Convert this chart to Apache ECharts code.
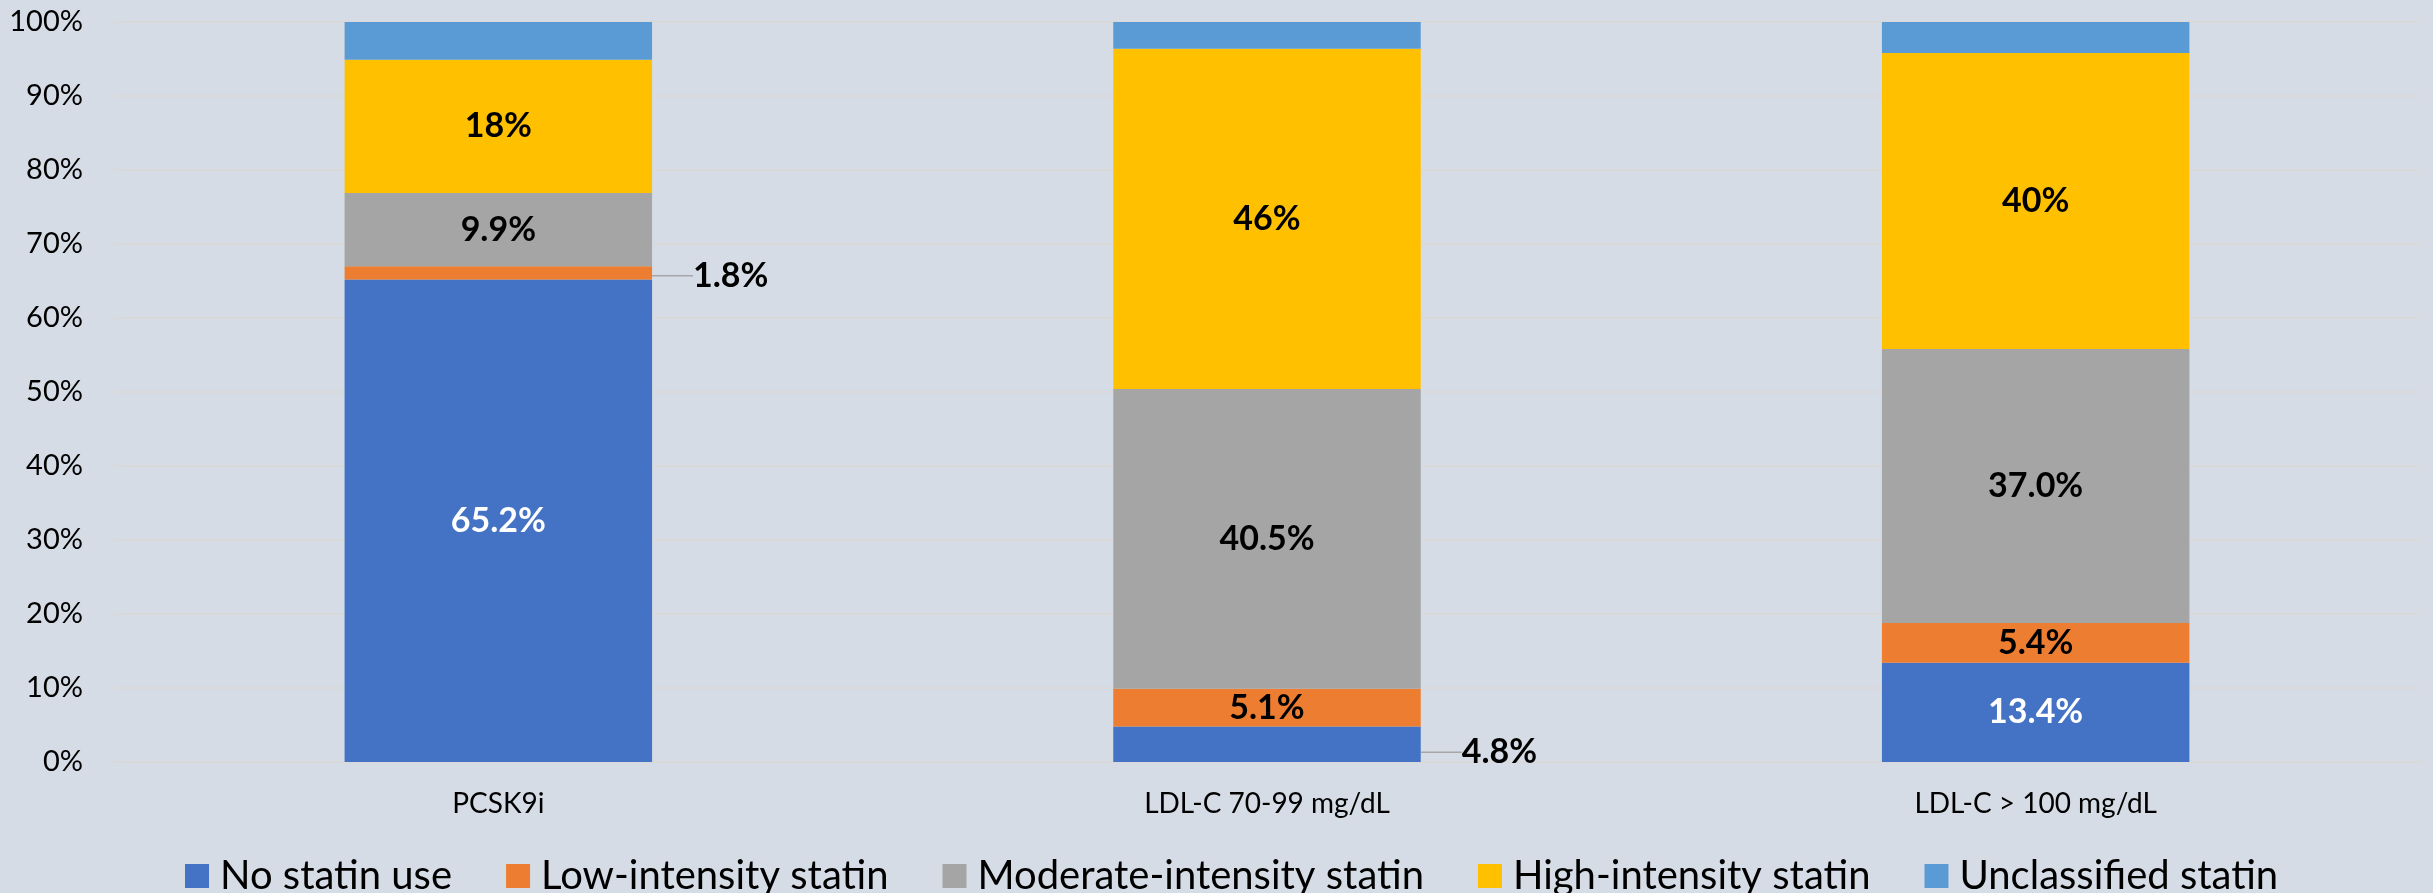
<!DOCTYPE html>
<html>
<head>
<meta charset="utf-8">
<title>Statin use by group</title>
<script src="https://cdn.jsdelivr.net/npm/echarts@6/dist/echarts.min.js"></script>
<style>
  html, body { margin: 0; padding: 0; background: #D6DCE5; }
  #chart { width: 2433px; height: 893px; }
</style>
</head>
<body>
<div id="chart"></div>
<script>
// chart data
const categories = ['PCSK9i', 'LDL-C 70-99 mg/dL', 'LDL-C > 100 mg/dL']
const seriesNames = ['No statin use', 'Low-intensity statin', 'Moderate-intensity statin', 'High-intensity statin', 'Unclassified statin']
const noStatin = [65.2, 4.8, 13.4]
const lowIntensity = [1.8, 5.1, 5.4]
const moderateIntensity = [9.9, 40.5, 37.0]
const highIntensity = [18, 46, 40]
const unclassified = [5.1, 3.6, 4.2]
const yTicks = [0, 10, 20, 30, 40, 50, 60, 70, 80, 90, 100]

const colors = ['#4472C4', '#ED7D31', '#A5A5A5', '#FFC000', '#5B9BD5']
const FONT = 'Lato'

const chart = echarts.init(document.getElementById('chart'))

// labels that sit outside the bar, keyed by series index -> data index
const outsideLabels = { 0: [1], 1: [0] }

function pct1(p) { return p.value.toFixed(1) + '%' }
function pct0(p) { return Math.round(p.value) + '%' }

function makeSeries(idx, values, opts) {
  const outs = outsideLabels[idx] || []
  return {
    name: seriesNames[idx],
    type: 'bar',
    stack: 'total',
    barWidth: '40%',
    itemStyle: { color: colors[idx] },
    emphasis: { disabled: true },
    data: values.map((v, i) => {
      if (outs.indexOf(i) >= 0) {
        return { value: v, label: { color: '#000', position: 'right' } }
      }
      return v
    }),
    label: {
      show: opts.label !== false,
      position: 'inside',
      formatter: opts.formatter || pct1,
      fontFamily: FONT,
      fontWeight: 'bold',
      fontSize: 34,
      color: opts.labelColor || '#000'
    },
    labelLine: {
      show: outs.length > 0,
      lineStyle: { color: '#A6A6A6', width: 1.5 }
    },
    labelLayout: function (params) {
      if (outs.indexOf(params.dataIndex) < 0) return {}
      const r = params.rect
      return {
        x: r.x + r.width + 41,
        y: r.y + r.height / 2 + (idx === 0 ? 8 : 3),
        align: 'left',
        verticalAlign: 'middle'
      }
    }
  }
}

const option = {
  backgroundColor: '#D6DCE5',
  animation: false,
  textStyle: { fontFamily: FONT },
  grid: { left: 114, right: 13, top: 22, bottom: 131, containLabel: false },
  legend: {
    data: seriesNames,
    left: 180,
    top: 851,
    icon: 'rect',
    itemWidth: 24,
    itemHeight: 24,
    itemGap: 54,
    textStyle: { fontFamily: FONT, fontSize: 40, color: '#000', padding: [0, 0, 0, 6] }
  },
  xAxis: {
    type: 'category',
    data: categories,
    axisLine: { show: true, lineStyle: { color: '#D9D9D9', width: 2 } },
    axisTick: { show: false },
    axisLabel: { fontFamily: FONT, fontSize: 28, color: '#000', margin: 28 }
  },
  yAxis: {
    type: 'value',
    min: yTicks[0],
    max: yTicks[yTicks.length - 1],
    interval: yTicks[1] - yTicks[0],
    axisLine: { show: false },
    axisTick: { show: false },
    splitLine: { lineStyle: { color: '#D9D9D9', width: 2 } },
    axisLabel: { formatter: '{value}%', fontFamily: FONT, fontSize: 29, color: '#000', margin: 31 }
  },
  series: [
    makeSeries(0, noStatin, { labelColor: '#fff' }),
    makeSeries(1, lowIntensity, {}),
    makeSeries(2, moderateIntensity, {}),
    makeSeries(3, highIntensity, { formatter: pct0 }),
    makeSeries(4, unclassified, { label: false })
  ]
}

chart.setOption(option)
window.addEventListener('resize', () => {
  chart.resize()
})
</script>
</body>
</html>
